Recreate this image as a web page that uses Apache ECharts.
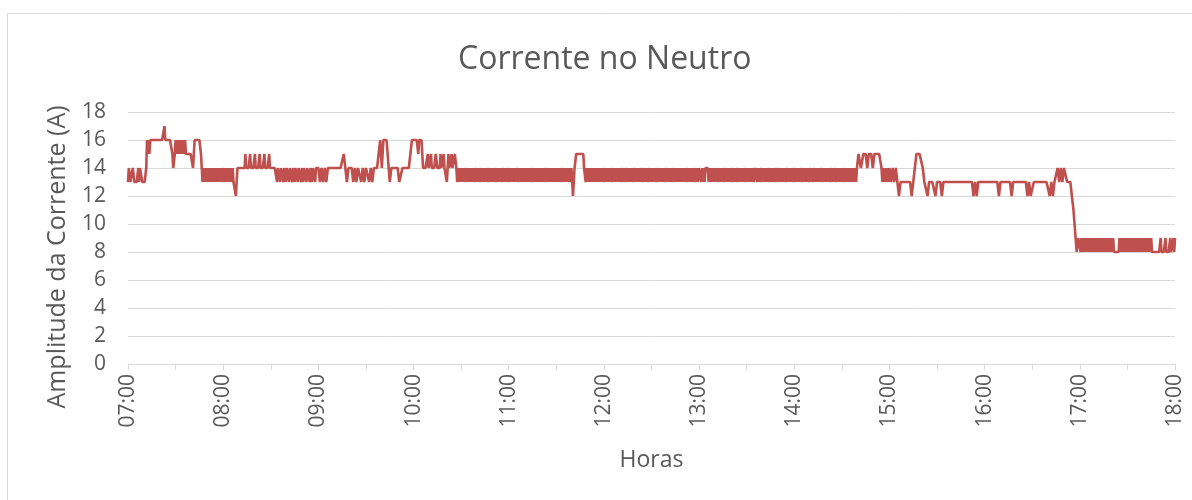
<!DOCTYPE html>
<html>
<head>
<meta charset="utf-8">
<title>Corrente no Neutro</title>
<script src="https://cdn.jsdelivr.net/npm/echarts@6/dist/echarts.min.js"></script>
<style>
  html, body { margin: 0; padding: 0; background: #fff; }
  #grafico { width: 1192px; height: 500px; }
</style>
</head>
<body>
<div id="grafico"></div>
<script>
// leituras de corrente (A), uma lista por hora (07:00 ... 17:59)
// 60 valores = 1 leitura por minuto, 120 valores = 1 leitura a cada 30 s
const h07 = [13,14,14,13,13,13,14,14,13,13,13,13,13,14,13,14,14,14,13,13,13,13,
             13,14,16,15,16,15,16,16,
             16,16,16,16,16,16,16,16,16,16,16,16,16,16,16,16,
             17,16,
             16,16,16,16,16,16,16,16,
             15,14,14,15,
             16,15,16,15,16,15,16,15,16,15,16,15,16,15,
             15,15,15,15,15,15,15,15,
             14,14,
             16,16,16,16,16,16,16,16,
             15,14,
             13,14,13,14,13,14,13,14,13,14,13,14,13,14,13,14,13,14,13,14,13,14,13,14,13,14];
const h08 = [14,13,14,13,14,13,14,13,14,13,14,13,14,13,
             13,13,12,13,
             14,14,14,14,14,14,14,14,14,14,
             15,14,14,14,14,14,15,14,14,14,14,14,15,14,14,14,14,14,15,14,14,14,14,14,15,14,14,14,14,14,15,14,
             14,14,14,14,14,14,
             14,14,13,14,14,14,13,14,14,14,13,14,14,13,14,14,14,13,14,14,14,13,14,14,13,14,14,14,13,14,
             14,14,13,14,14,13,14,14,14,13,14,14,14,13,14,14,13,14,14,14,13,14,14,14];
const h09 = [14,13,14,13,14,13,14,14,14,14,14,14,14,14,14,14,15,14,13,14,14,14,13,14,13,14,14,13,14,13,14,14,13,14,13,14,14,14,14,16,14,16,16,16,16,13,14,14,14,14,14,13,13,14,14,14,14,14,15,16];
const h10 = [16,16,16,16,16,16,15,16,16,16,16,16,
             14,14,14,14,14,14,15,14,14,14,15,14,14,14,14,14,15,15,14,14,14,14,15,14,14,14,15,14,14,14,13,14,15,14,14,14,15,14,14,14,15,15,14,13,
             13,14,13,14,13,14,13,14,13,14,14,13,14,13,14,13,14,13,14,13,14,13,13,14,
             13,14,13,14,14,13,14,13,14,13,14,13,14,13,13,14,13,14,13,14,13,14,13,14,
             14,13,14,13,14,13,14,13,13,14,13,14,13,14,13,14];
const h11 = [14,13,14,13,14,13,14,13,14,13,14,14,13,14,13,14,13,14,13,14,
             13,14,13,14,13,14,13,14,13,13,14,13,14,13,14,13,14,13,14,13,
             14,13,14,13,14,13,14,14,13,14,13,14,13,14,13,14,13,14,13,14,
             13,14,13,14,13,14,13,13,14,13,14,13,14,13,14,13,14,13,
             13,14,13,12,13,14,14,15,15,15,15,15,15,15,15,15,15,14,14,13,
             14,13,14,13,14,13,14,13,14,13,14,13,14,13,14,13,14,13,14,13,14,13];
const h12 = [13,14,13,14,13,14,13,14,13,14,14,13,14,13,14,13,14,13,14,13,14,13,13,14,
             13,14,13,14,14,13,14,13,14,13,14,13,14,13,13,14,13,14,13,14,13,14,13,14,
             14,13,14,13,14,13,14,13,13,14,13,14,13,14,13,14,13,14,14,13,14,13,14,13,
             14,13,14,13,14,13,13,14,13,14,13,14,13,14,13,14,14,13,14,13,14,13,14,13,
             14,13,14,13,14,13,14,13,14,14,13,14,13,14,13,14,13,14,13,13,14,13,14,13];
const h13 = [14,14,14,13,14,13,14,13,14,14,14,14,13,14,13,14,13,14,13,14,13,14,13,14,
             14,13,14,13,14,13,14,13,13,14,13,14,13,14,13,14,13,14,14,13,14,13,14,13,
             13,14,13,14,13,14,13,14,13,14,14,13,14,13,14,13,14,13,14,13,14,13,13,14,
             14,13,14,13,14,13,13,14,13,14,13,14,13,14,13,14,14,13,14,13,14,13,14,13,
             13,14,13,14,14,13,14,13,14,13,14,13,14,13,13,14,13,14,13,14,13,14,13,14];
const h14 = [14,13,14,13,14,13,14,13,14,14,13,14,13,14,13,14,13,14,13,13,14,13,14,13,
             13,14,13,14,13,14,13,14,13,14,14,13,14,13,14,13,14,13,14,13,14,13,13,14,
             13,14,13,14,14,13,14,13,14,13,14,13,14,13,13,14,13,14,13,14,13,14,13,14,
             13,14,13,14,13,14,13,14,
             14,15,15,15,14,14,14,15,15,15,15,15,14,14,15,15,15,15,15,14,14,15,15,15,15,15,15,15,15,15,
             14,13,14,13,14,13,14,13,14,13];
const h15 = [14,13,14,13,14,13,12,13,13,13,13,13,13,13,12,13,13,15,15,15,15,14,13,13,12,13,13,13,13,12,13,13,13,12,13,13,13,13,13,13,13,13,13,13,13,13,13,13,13,13,13,13,13,12,13,12,13,13,13,13];
const h16 = [13,13,13,13,13,13,13,13,13,12,13,13,13,13,13,13,13,12,13,13,13,13,13,13,13,13,13,12,13,12,12,13,13,13,13,13,13,13,13,13,13,12,13,12,13,13,14,13,14,13,14,14,13,13,13,13,11,11,8,9];
const h17 = [9,8,9,8,9,8,9,8,9,8,9,8,9,8,9,8,9,8,9,8,9,8,9,8,9,8,9,8,9,8,9,8,9,8,9,8,9,8,9,8,9,8,9,8,
             8,8,8,8,8,8,
             9,8,9,8,9,8,9,8,9,8,9,8,9,8,9,8,9,8,9,8,9,8,9,8,9,8,9,8,9,8,9,8,9,8,9,8,9,8,9,8,9,8,
             8,8,8,8,8,8,8,8,8,8,
             9,8,8,8,8,8,9,8,8,8,8,8,9,8,8,8,9,8];
const h18 = 9; // leitura das 18:00

const horaInicial = 7;
const horaFinal = 18;
const yTicks = [0, 2, 4, 6, 8, 10, 12, 14, 16, 18];

function montarPontos() {
  let pontos = [];
  [h07, h08, h09, h10, h11, h12, h13, h14, h15, h16, h17].forEach(function (lista, k) {
    let passo = 60 / lista.length; // minutos entre leituras
    for (let i = 0; i < lista.length; i++) {
      pontos.push([k * 60 + i * passo, lista[i]]);
    }
  });
  pontos.push([(horaFinal - horaInicial) * 60, h18]);
  return pontos;
}

const cinza = "#595959";
const fonte = "'Open Sans', sans-serif";

let myChart = echarts.init(document.getElementById("grafico"));

let option = {
  animation: false,
  backgroundColor: "#fff",
  textStyle: { fontFamily: fonte },
  graphic: [
    {
      type: "rect",
      shape: { x: 7.5, y: 13.5, width: 1400, height: 700 },
      style: { fill: "none", stroke: "#D9D9D9", lineWidth: 1 },
      silent: true,
    },
  ],
  title: {
    text: "Corrente no Neutro",
    left: 458,
    top: 44,
    padding: 0,
    textStyle: { color: cinza, fontSize: 32, fontWeight: "normal", fontFamily: fonte },
  },
  grid: { left: 128, right: 17, top: 112, bottom: 136, containLabel: false },
  xAxis: {
    type: "value",
    min: 0,
    max: (horaFinal - horaInicial) * 60,
    interval: 30,
    name: "Horas",
    nameLocation: "middle",
    nameGap: 85,
    nameTextStyle: { color: cinza, fontSize: 23, fontFamily: fonte },
    axisLine: { show: true, lineStyle: { color: "#D9D9D9", width: 1 } },
    axisTick: { show: true, length: 6, lineStyle: { color: "#D9D9D9" } },
    splitLine: { show: false },
    axisLabel: {
      rotate: 90,
      margin: 10,
      color: cinza,
      fontSize: 21,
      fontFamily: fonte,
      showMinLabel: true,
      showMaxLabel: true,
      formatter: function (v) {
        if (v % 60 !== 0) return "";
        let h = horaInicial + v / 60;
        return (h < 10 ? "0" + h : "" + h) + ":00";
      },
    },
  },
  yAxis: {
    type: "value",
    min: yTicks[0],
    max: yTicks[yTicks.length - 1],
    interval: 2,
    name: "Amplitude da Corrente (A)",
    nameLocation: "middle",
    nameGap: 58,
    nameTextStyle: { color: cinza, fontSize: 25, fontFamily: fonte, padding: [0, 38, 0, 0] },
    axisLine: { show: false },
    axisTick: { show: false },
    axisLabel: { color: cinza, fontSize: 21, margin: 22, fontFamily: fonte },
    splitLine: { show: true, lineStyle: { color: "#D9D9D9", width: 1 } },
  },
  series: [
    {
      name: "Corrente",
      type: "line",
      data: montarPontos(),
      showSymbol: false,
      sampling: null,
      lineStyle: { color: "#C0504D", width: 2.6 },
      itemStyle: { color: "#C0504D" },
    },
  ],
};

myChart.setOption(option);
</script>
</body>
</html>
